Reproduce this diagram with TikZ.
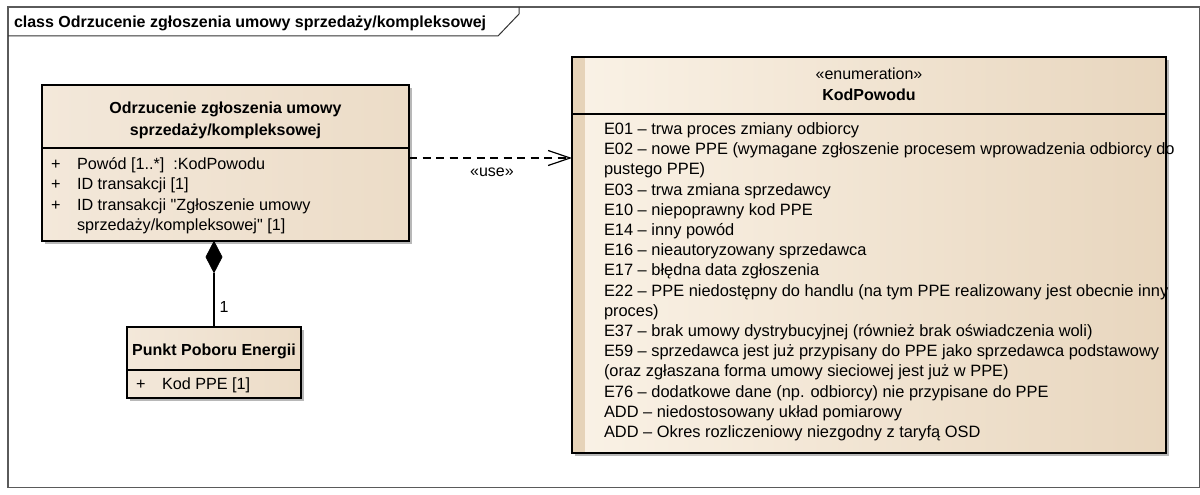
\documentclass[tikz,border=0pt]{standalone}
\usepackage{fontspec}
\setmainfont{Liberation Sans}[Ligatures=TeXOff]
\usetikzlibrary{arrows.meta,shapes.geometric,shadows}
\definecolor{boxlight}{HTML}{FAF2E6}
\definecolor{boxdark}{HTML}{E8D6BE}
\definecolor{clslight}{HTML}{F3E8DA}
\definecolor{clsdark}{HTML}{ECDCC7}
\definecolor{stripc}{HTML}{E6D3B9}
\definecolor{shadowc}{HTML}{B8B8B8}
\definecolor{framec}{HTML}{5A5A5A}
\begin{document}
\begin{tikzpicture}[x=1pt,y=-1pt,
  every node/.style={inner sep=0pt,outer sep=0pt},
  txt/.style={font=\fontsize{16.2}{19}\selectfont,anchor=base west},
  itxt/.style={font=\fontsize{16.4}{19}\selectfont,anchor=base west},
  btxt/.style={font=\fontsize{16}{19}\selectfont\bfseries,anchor=base},
  ctxt/.style={font=\fontsize{16}{19}\selectfont,anchor=base},
  boxline/.style={draw=black,line width=1.3pt},
  classbox/.style={boxline,left color=clslight,right color=clsdark,
    drop shadow={shadow xshift=3pt,shadow yshift=-3pt,fill=shadowc,opacity=1}},
  enumbox/.style={boxline,left color=boxlight,right color=boxdark,
    drop shadow={shadow xshift=3pt,shadow yshift=-3pt,fill=shadowc,opacity=1}},
  dep/.style={draw=black,line width=1.2pt,dash pattern=on 8pt off 5.5pt,
    -{Straight Barb[length=22pt,width=15pt,line width=1.2pt]}},
  compo/.style={draw=black,line width=1.3pt}
]
\useasboundingbox (0,0) rectangle (1200,495);
\fill[white] (0,0) rectangle (1200,495);
% frame
\draw[draw=framec,line width=1.6pt] (8,7) rectangle (1199.5,487.5);
\draw[draw=black!80,line width=1pt] (8,36) -- (498,36) -- (519,14) -- (519,7);
\node[font=\fontsize{16}{19}\selectfont\bfseries,anchor=base west] (title) at (14,27.5)
  {class Odrzucenie zgłoszenia umowy sprzedaży/kompleksowej};

% main class
\node[classbox,minimum width=367pt,minimum height=156pt,anchor=north west] (cls) at (42,85) {};
\draw[boxline] (cls.west |- 0,148) -- (cls.east |- 0,148);
\node[btxt] (clst1) at (225.5,113.5) {Odrzucenie zgłoszenia umowy};
\node[btxt] (clst2) at (225.5,135.5) {sprzedaży/kompleksowej};
\node[txt] (p1) at (51,169) {+};
\node[txt] (a1) at (77,169) {Powód [1..*] \ :KodPowodu};
\node[txt] (p2) at (51,189.5) {+};
\node[txt] (a2) at (77,189.5) {ID transakcji [1]};
\node[txt] (p3) at (51,210) {+};
\node[txt] (a3) at (77,210) {ID transakcji "Zgłoszenie umowy};
\node[txt] (a4) at (77,230.5) {sprzedaży/kompleksowej" [1]};

% PPE class
\node[classbox,minimum width=174pt,minimum height=71pt,anchor=north west] (ppe) at (127,327) {};
\draw[boxline] (ppe.west |- 0,370) -- (ppe.east |- 0,370);
\node[btxt] (ppet) at (214,355.5) {Punkt Poboru Energii};
\node[txt] (pp1) at (136,389.5) {+};
\node[txt] (pa1) at (162,389.5) {Kod PPE [1]};

% composition
\node[diamond,draw=black,fill=black,line width=0.8pt,minimum width=16pt,minimum height=31pt,anchor=north] (dia) at (214,241.5) {};
\draw[compo] (dia.south) -- (ppe.north);
\node[ctxt] (mult) at (224,312) {1};

% enumeration
\node[enumbox,minimum width=594pt,minimum height=396pt,anchor=north west] (enum) at (572,57) {};
\fill[stripc] ([xshift=0.65pt,yshift=-0.65pt]enum.north west) rectangle ([xshift=13pt,yshift=0.65pt]enum.south west);
\draw[boxline] (enum.west |- 0,114) -- (enum.east |- 0,114);
\node[ctxt] (ster) at (869,80) {«enumeration»};
\node[btxt] (ename) at (869,100.5) {KodPowodu};
\foreach \t [count=\i from 0] in {
  {E01 – trwa proces zmiany odbiorcy},
  {E02 – nowe PPE (wymagane zgłoszenie procesem wprowadzenia odbiorcy do},
  {pustego PPE)},
  {E03 – trwa zmiana sprzedawcy},
  {E10 – niepoprawny kod PPE},
  {E14 – inny powód},
  {E16 – nieautoryzowany sprzedawca},
  {E17 – błędna data zgłoszenia},
  {E22 – PPE niedostępny do handlu (na tym PPE realizowany jest obecnie inny},
  {proces)},
  {E37 – brak umowy dystrybucyjnej (również brak oświadczenia woli)},
  {E59 – sprzedawca jest już przypisany do PPE jako sprzedawca podstawowy},
  {(oraz zgłaszana forma umowy sieciowej jest już w PPE)},
  {E76 – dodatkowe dane (np. odbiorcy) nie przypisane do PPE},
  {ADD – niedostosowany układ pomiarowy},
  {ADD – Okres rozliczeniowy niezgodny z taryfą OSD}}
  \node[itxt] (lit\i) at (604,134.5+20.2*\i) {\t};

% dependency
\draw[dep] (cls.east |- 0,158) -- (enum.west |- 0,158);
\node[ctxt] (use) at (492,176.5) {«use»};
\end{tikzpicture}
\end{document}
